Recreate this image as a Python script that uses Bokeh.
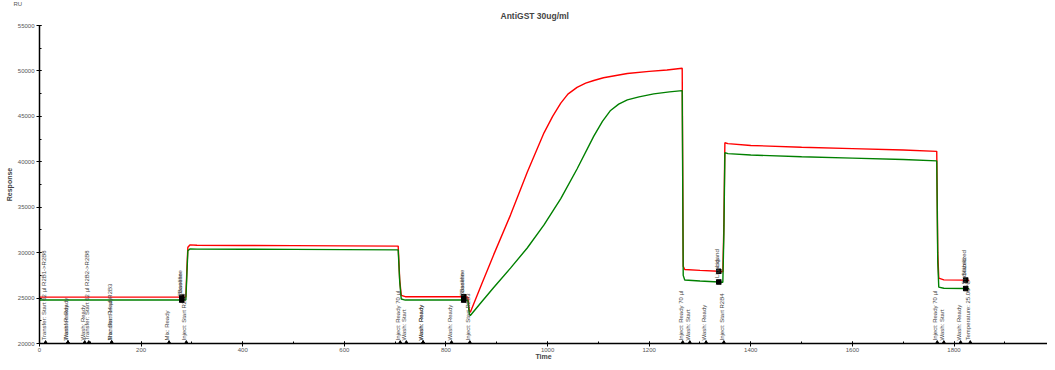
import numpy as np
from bokeh.plotting import figure
from bokeh.models import Range1d, SingleIntervalTicker, Title
from bokeh.embed import file_html
from bokeh.resources import INLINE
from bokeh.core.properties import value

# ---------------- data ----------------
red_t = [0, 280, 288, 290, 292, 296, 310, 400, 500, 600, 706, 709, 712, 720, 835, 843,
         846, 848, 870, 894, 927, 960, 993, 1010, 1026, 1040, 1058, 1075, 1091, 1110, 1157,
         1200, 1235, 1265,
         1267, 1270, 1300, 1337, 1345, 1347, 1349, 1355, 1400, 1500, 1600, 1700, 1766,
         1768, 1770, 1780, 1823, 1830]
red_v = [25100, 25100, 25100, 28000, 30600, 30850, 30820, 30790, 30770, 30750, 30720, 27000,
         25300, 25150, 25150, 25100, 23600, 23440, 26500, 29780, 34130, 38840, 43190, 45000,
         46450, 47450, 48190, 48650, 48950, 49250, 49710, 49950, 50100, 50300,
         28500, 28150, 28050, 27950, 27900, 33000,
         42100, 42000, 41800, 41600, 41450, 41300, 41150, 30000, 27200, 27000, 26980, 26950]

green_t = [0, 280, 288, 290, 292, 296, 310, 400, 500, 600, 706, 709, 712, 720, 835, 843,
           846, 848, 870, 894, 927, 960, 993, 1026, 1058, 1091, 1108, 1124, 1140, 1157, 1180,
           1209, 1240, 1265,
           1267, 1270, 1300, 1337, 1345, 1347, 1349, 1355, 1400, 1500, 1600, 1700, 1766,
           1768, 1770, 1780, 1823, 1830]
green_v = [24780, 24780, 24780, 27500, 30200, 30400, 30390, 30380, 30360, 30330, 30300, 26800,
           24900, 24780, 24780, 24760, 23250, 23080, 24560, 26160, 28300, 30510, 33050, 35950,
           39210, 42830, 44450, 45650, 46350, 46820, 47150, 47470, 47700, 47830,
           27500, 26990, 26880, 26770, 26740, 32000, 41000,
           40900, 40750, 40550, 40400, 40250, 40100, 29000, 26200, 26080, 26050, 26040]

event_t = [12, 56, 56, 89, 97, 142, 142, 255, 289, 710, 722, 755, 755, 811, 847,
           1266, 1280, 1312, 1347, 1767, 1780, 1813, 1832]
event_labels = ["Transfer: Start 62 µl R2B1->R2B8", "Transfer: Ready", "Wash: Ready",
                "Wash: Ready", "Transfer: Start 62 µl R2B2->R2B8", "Transfer: Ready",
                "Mix: Start 14 µl R2B3", "Mix: Ready", "Inject: Start R2B3",
                "Inject: Ready 70 µl", "Wash: Start", "Wash: Ready", "Wash: Ready",
                "Wash: Ready", "Inject: Start R2B3",
                "Inject: Ready 70 µl", "Wash: Start", "Wash: Ready", "Inject: Start R2B4",
                "Inject: Ready 70 µl", "Wash: Start", "Wash: Ready", "Temperature: 25.00 °C"]

mark_t = [280, 835, 1337, 1823]
mark_labels = ["Baseline", "Baseline", "Ligand", "Stabilized"]

title_text = "AntiGST 30ug/ml"
unit_text = "RU"
x_start, x_end = 0, 1984
y_start, y_end = 20000, 55000

# ---------------- figure ----------------
p = figure(width=1047, height=362, output_backend="svg", toolbar_location=None,
           x_range=Range1d(x_start, x_end), y_range=Range1d(y_start, y_end),
           min_border_left=39, min_border_right=0, min_border_top=23, min_border_bottom=17)
p.background_fill_color = "white"
p.border_fill_color = "white"
p.outline_line_color = None
p.xgrid.visible = False
p.ygrid.visible = False

# outer title row: unit label
p.title.text = unit_text
p.title.align = "left"
p.title.offset = -26
p.title.text_font = "Liberation Sans"
p.title.text_font_size = "6px"
p.title.text_font_style = "normal"
p.title.text_color = "#555555"
p.title.standoff = -4

# inner title row: chart title
p.add_layout(Title(text=title_text, align="left", offset=461, text_font="Liberation Sans",
                   text_font_size="8.5px", text_font_style="bold", standoff=9), "above")

p.xaxis.ticker = SingleIntervalTicker(interval=200, num_minor_ticks=2)
p.yaxis.ticker = SingleIntervalTicker(interval=5000, num_minor_ticks=2)
p.xaxis.axis_label = "Time"
p.yaxis.axis_label = "Response"
for ax in (p.xaxis[0], p.yaxis[0]):
    ax.axis_line_color = "black"
    ax.axis_line_width = 1.5
    ax.major_tick_line_color = "black"
    ax.minor_tick_line_color = "black"
    ax.major_tick_in = 2
    ax.major_tick_out = 3
    ax.minor_tick_in = 2
    ax.minor_tick_out = 0
    ax.major_label_text_font = "Liberation Sans"
    ax.major_label_text_font_size = "6px"
    ax.major_label_text_color = "#555555"
    ax.major_label_standoff = 2
    ax.axis_label_text_font = "Liberation Sans"
    ax.axis_label_text_font_size = "7px"
    ax.axis_label_text_font_style = "bold"
    ax.axis_label_standoff = 2
p.xaxis.major_label_standoff = 1
p.xaxis.axis_label_standoff = -2

# curves
p.line(red_t, red_v, line_color="#ff0000", line_width=1.4)
p.line(green_t, green_v, line_color="#008000", line_width=1.4)

# bottom event markers + labels
ev_y = [y_start] * len(event_t)
p.text(x=event_t, y=ev_y, text=event_labels, angle=np.pi / 2, text_align="left",
       text_baseline="bottom", text_font=value("Liberation Sans"), text_font_size="6px",
       text_color="#444444", x_offset=1, y_offset=-3)
p.scatter(event_t, ev_y, marker="triangle", size=5, color="black")

# curve markers + labels
red_m = list(np.interp(mark_t, red_t, red_v))
green_m = list(np.interp(mark_t, green_t, green_v))
for vals in (red_m, green_m):
    p.text(x=mark_t, y=vals, text=mark_labels, angle=np.pi / 2, text_align="left",
           text_baseline="bottom", text_font=value("Liberation Sans"), text_font_size="6px",
           text_color="#444444", x_offset=1, y_offset=-4)
    p.scatter(mark_t, vals, marker="square_x", size=4.5, color="black")

open("out.html", "w").write(file_html(p, INLINE))
